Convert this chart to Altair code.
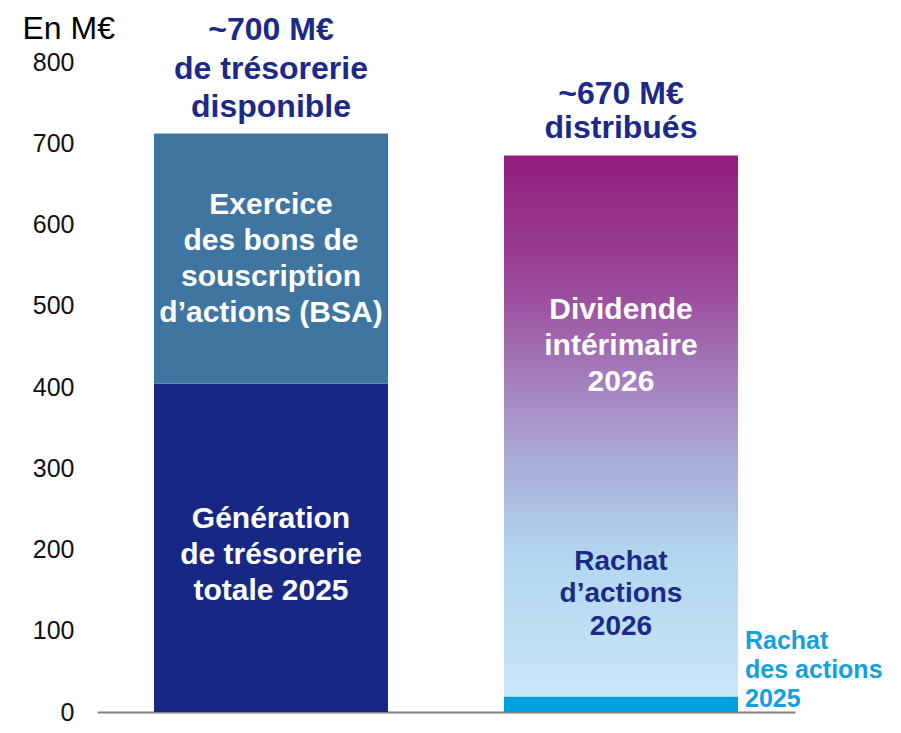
import altair as alt
import pandas as pd

# ---- data (M€) ----
categories = ["Trésorerie", "Distribution"]

left_segments = ["Génération de trésorerie totale 2025", "Exercice des BSA"]
left_values = [404, 308]

right_flat_segment = "Rachat des actions 2025"
right_flat_value = 19
right_gradient_segment = "Rachat d'actions 2026 + Dividende intérimaire 2026"
right_gradient_value = 666

seg_colors = {
    "Génération de trésorerie totale 2025": "#172884",
    "Exercice des BSA": "#3F75A1",
    "Rachat des actions 2025": "#009FDF",
}

# labels: text, category, value (M€) at which the first line sits
white_texts = ["Génération\nde trésorerie\ntotale 2025",
               "Exercice\ndes bons de\nsouscription\nd’actions (BSA)",
               "Dividende\nintérimaire\n2026"]
white_cats = ["Trésorerie", "Trésorerie", "Distribution"]
white_vals = [238, 624, 495]

rachat26_text = ["Rachat\nd’actions\n2026"]
rachat26_val = [185]

rachat25_text = ["Rachat\ndes actions\n2025"]
rachat25_val = [87]

title_left_text = ["~700 M€\nde trésorerie\ndisponible"]
title_left_val = [839]
title_right_text = ["~670 M€\ndistribués"]
title_right_val = [761]

y_ticks = [0, 100, 200, 300, 400, 500, 600, 700, 800]

# ---- tables ----
flat_rows = []
acc = 0
for s, v in zip(left_segments, left_values):
    flat_rows.append({"cat": "Trésorerie", "seg": s, "y0": acc, "y1": acc + v, "col": seg_colors[s]})
    acc += v
flat_rows.append({"cat": "Distribution", "seg": right_flat_segment, "y0": 0,
                  "y1": right_flat_value, "col": seg_colors[right_flat_segment]})
flat_df = pd.DataFrame(flat_rows)

grad_df = pd.DataFrame([{"cat": "Distribution", "seg": right_gradient_segment,
                         "y0": right_flat_value, "y1": right_flat_value + right_gradient_value}])

white_df = pd.DataFrame({"cat": white_cats, "txt": white_texts, "v": white_vals})
r26_df = pd.DataFrame({"cat": ["Distribution"], "txt": rachat26_text, "v": rachat26_val})
r25_df = pd.DataFrame({"cat": ["Distribution"], "txt": rachat25_text, "v": rachat25_val})
tl_df = pd.DataFrame({"cat": ["Trésorerie"], "txt": title_left_text, "v": title_left_val})
tr_df = pd.DataFrame({"cat": ["Distribution"], "txt": title_right_text, "v": title_right_val})

FONT = "Liberation Sans"
NAVY = "#1B2A8A"

xscale = alt.Scale(domain=categories, paddingInner=0.3314, paddingOuter=0.1629)
xaxis = alt.Axis(labels=False, ticks=False, title=None, domain=True,
                 domainColor="#7F7F7F", domainWidth=2, grid=False)
yscale = alt.Scale(domain=[0, 800], nice=False)
yaxis = alt.Axis(values=y_ticks, ticks=False, domain=False, grid=False,
                 labelFontSize=25, labelFont=FONT, labelColor="#111111", labelPadding=23,
                 title="En M€", titleFont=FONT, titleFontSize=32, titleFontWeight="normal",
                 titleColor="#000000", titleAngle=0, titleAlign="left", titleBaseline="middle",
                 titleX=-75, titleY=-34)


def X():
    return alt.X("cat:N", scale=xscale, axis=xaxis, sort=categories)


flat = alt.Chart(flat_df).mark_bar().encode(
    x=X(),
    y=alt.Y("y0:Q", scale=yscale, axis=yaxis),
    y2="y1:Q",
    color=alt.Color("col:N", scale=None),
)

grad = alt.Chart(grad_df).mark_bar(
    color=alt.Gradient(
        gradient="linear",
        stops=[
            alt.GradientStop(color="#931C7E", offset=0.0),
            alt.GradientStop(color="#9B4A9C", offset=0.25),
            alt.GradientStop(color="#A894C9", offset=0.48),
            alt.GradientStop(color="#ACB9E0", offset=0.62),
            alt.GradientStop(color="#B2D6F0", offset=0.74),
            alt.GradientStop(color="#CAE6F7", offset=1.0),
        ],
        x1=0, x2=0, y1=0, y2=1,
    )
).encode(
    x=X(),
    y=alt.Y("y0:Q", scale=yscale),
    y2="y1:Q",
)


def text_layer(df, color, size, lh, align="center", dx=0, band=0.5):
    return alt.Chart(df).mark_text(
        font=FONT, fontWeight="bold", fontSize=size, color=color, lineBreak="\n",
        lineHeight=lh, align=align, baseline="middle", dx=dx,
    ).encode(
        x=alt.X("cat:N", scale=xscale, sort=categories, bandPosition=band),
        y=alt.Y("v:Q", scale=yscale),
        text="txt:N",
    )


white = text_layer(white_df, "#FFFFFF", 30, 36)
r26 = text_layer(r26_df, "#1C2A87", 28, 32.5)
r25 = text_layer(r25_df, "#14A0E0", 25, 29, align="left", dx=7, band=1)
tl = text_layer(tl_df, NAVY, 32, 38.5)
tr = text_layer(tr_df, NAVY, 32, 34)

chart = alt.layer(flat, grad, white, r26, r25, tl, tr).properties(
    width=698, height=650,
    padding={"left": 89, "top": 54, "right": 90, "bottom": 13},
    autosize="none",
).configure_view(stroke=None)

chart.save("out.html", embed_options={"renderer": "svg", "actions": False})
